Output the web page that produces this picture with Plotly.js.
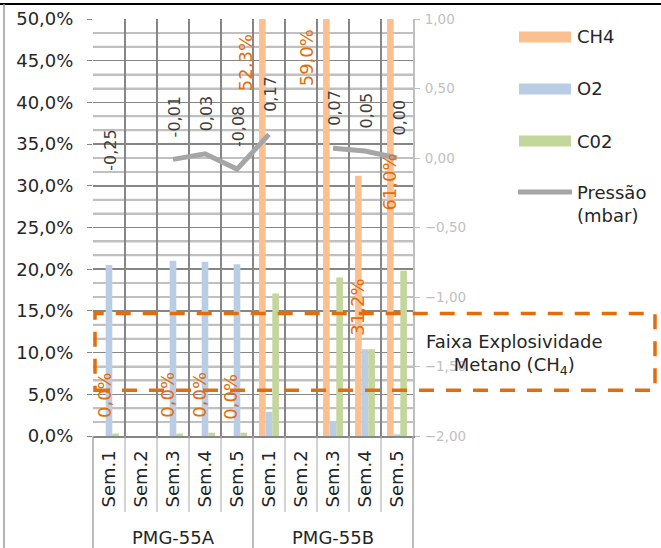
<!DOCTYPE html>
<html><head><meta charset="utf-8">
<script src="https://cdn.plot.ly/plotly-3.0.1.min.js"></script>
<style>html,body{margin:0;padding:0;background:#fff}#chart{width:661px;height:548px}</style>
</head><body><div id="chart"></div>
<script>
// ---- data ----
const groups = ['PMG-55A','PMG-55A','PMG-55A','PMG-55A','PMG-55A','PMG-55B','PMG-55B','PMG-55B','PMG-55B','PMG-55B'];
const weeks = ['Sem.1','Sem.2','Sem.3','Sem.4','Sem.5','Sem.1','Sem.2','Sem.3','Sem.4','Sem.5'];
const groupNames = ['PMG-55A', 'PMG-55B'];
const ch4 = [0.0, null, 0.0, 0.0, 0.0, 52.3, null, 59.0, 31.2, 61.0];
const o2 = [20.5, null, 21.0, 20.9, 20.6, 2.9, null, 1.8, 10.4, 0.2];
const co2 = [0.3, null, 0.3, 0.4, 0.4, 17.1, null, 19.0, 10.4, 19.8];
const pressure = [-0.25, null, -0.01, 0.03, -0.08, 0.17, null, 0.07, 0.05, 0.00];
const seriesNames = ['CH4', 'O2', 'C02', 'Pressão<br>(mbar)'];
const bandLow = 5.5, bandHigh = 14.7;
const bandText = 'Faixa Explosividade<br>Metano (CH<sub>4</sub>)';

// ---- label placement (layout only) ----
const ch4LabelY = [4.9, null, 4.9, 4.9, 4.7, 44.7, null, 45.3, 15.5, 30.5];
const ch4LabelDx = [-0.16, 0, -0.17, -0.17, -0.19, -0.75, 0, -0.84, -0.22, -0.22];

// ---- styles ----
const FONT = 'DejaVu Sans';
const colors = {ch4: '#FAC090', o2: '#B9CDE5', co2: '#C3D69B', p: '#A6A6A6', band: '#E46C0A', lab: '#E46C0A'};
const W = 661, H = 548;
const M = {l: 93, r: 248, t: 19, b: 112};
const PW = W - M.l - M.r, PH = H - M.t - M.b;
const px2x = px => (px - M.l) / PW;
const py2y = py => (H - M.b - py) / PH;
const yRange = [0, 50], y2Range = [-2, 1];

const xKeys = groups.map((g, i) => g + ' ' + weeks[i]);
const traces = [
  {type: 'bar', name: seriesNames[0], x: xKeys, y: ch4, marker: {color: colors.ch4}, showlegend: false},
  {type: 'bar', name: seriesNames[1], x: xKeys, y: o2, marker: {color: colors.o2}, showlegend: false},
  {type: 'bar', name: seriesNames[2], x: xKeys, y: co2, marker: {color: colors.co2}, showlegend: false},
  {type: 'scatter', mode: 'lines', name: seriesNames[3], x: xKeys, y: pressure, yaxis: 'y2',
   line: {color: colors.p, width: 5}, connectgaps: false, showlegend: false}
];

const fmt = (v, d) => v.toFixed(d).replace('.', ',');
const n = weeks.length;
const annotations = [];
const shapes = [];
// light grid every 0.1 of the secondary axis (skip where the dark 5% lines are)
const nMinor = Math.round((y2Range[1] - y2Range[0]) / 0.1);
const minorStep = (yRange[1] - yRange[0]) / nMinor;
for (let k = 1; k < nMinor; k++) {
  if (k % 3 === 0) continue;
  shapes.push({type: 'line', layer: 'below', xref: 'x domain', yref: 'y domain', x0: 0, x1: 1, y0: k / nMinor, y1: k / nMinor,
    line: {color: '#C0C0C0', width: 2}});
}
ch4.forEach((v, i) => {
  if (v === null) return;
  annotations.push({xref: 'paper', yref: 'y', x: (i + 0.5 + ch4LabelDx[i]) / n, y: ch4LabelY[i],
    text: fmt(v, 1) + '%', textangle: -90, showarrow: false, xanchor: 'center', yanchor: 'middle',
    font: {family: FONT, size: 18, color: colors.lab}});
});
pressure.forEach((v, i) => {
  if (v === null) return;
  annotations.push({xref: 'paper', yref: 'y2', x: (i + 0.5) / n, y: v, xshift: 1.5, yshift: 20,
    text: fmt(v, 2), textangle: -90, showarrow: false, xanchor: 'center', yanchor: 'bottom',
    font: {family: FONT, size: 16, color: '#404040'}});
});
// legend
const legY = [37, 89, 141, 192];
const legColors = [colors.ch4, colors.o2, colors.co2];
legColors.forEach((c, k) => {
  shapes.push({type: 'rect', xref: 'paper', yref: 'paper', x0: px2x(519), x1: px2x(571),
    y0: py2y(legY[k] - 5.5), y1: py2y(legY[k] + 5.5), fillcolor: c, line: {width: 0}});
  annotations.push({xref: 'paper', yref: 'paper', x: px2x(575), y: py2y(legY[k]), xanchor: 'left', yanchor: 'middle',
    text: seriesNames[k], showarrow: false, font: {family: FONT, size: 18, color: '#262626'}});
});
shapes.push({type: 'line', xref: 'paper', yref: 'paper', x0: px2x(518), x1: px2x(572), y0: py2y(legY[3]), y1: py2y(legY[3]),
  line: {color: colors.p, width: 5}});
annotations.push({xref: 'paper', yref: 'paper', x: px2x(575), y: py2y(legY[3] + 11.5), xanchor: 'left', yanchor: 'middle', align: 'left',
  text: seriesNames[3], showarrow: false, font: {family: FONT, size: 18, color: '#262626'}});
// band
shapes.push({type: 'rect', xref: 'paper', yref: 'y', x0: px2x(95), x1: px2x(655), y0: bandLow, y1: bandHigh,
  line: {color: colors.band, width: 3.5, dash: '15px,12px'}, fillcolor: 'rgba(0,0,0,0)'});
annotations.push({xref: 'paper', yref: 'y', x: px2x(514), y: (bandLow + bandHigh) / 2 - 0.3, xanchor: 'center', yanchor: 'middle', align: 'center',
  text: bandText, showarrow: false, font: {family: FONT, size: 18, color: '#262626'}});
// category separators below axis, group dividers and group labels
for (let i = 1; i < n; i++) {
  if (i === n / 2) continue;
  shapes.push({type: 'line', xref: 'paper', yref: 'paper', x0: i / n, x1: i / n, y0: 0, y1: py2y(512),
    line: {color: '#A6A6A6', width: 1}});
}
[0, 0.5, 1].forEach(f => shapes.push({type: 'line', xref: 'paper', yref: 'paper', x0: f, x1: f, y0: 0, y1: py2y(H),
  line: {color: '#A6A6A6', width: 1.5}}));
groupNames.forEach((g, k) => annotations.push({xref: 'paper', yref: 'paper', x: (k + 0.5) / groupNames.length, y: py2y(537),
  xanchor: 'center', yanchor: 'middle', text: g, showarrow: false, font: {family: FONT, size: 18, color: '#262626'}}));
// chart border (top / left)
shapes.push({type: 'line', xref: 'paper', yref: 'paper', x0: px2x(0), x1: px2x(W), y0: py2y(4), y1: py2y(4), line: {color: '#000', width: 2}});
shapes.push({type: 'line', xref: 'paper', yref: 'paper', x0: px2x(4), x1: px2x(4), y0: py2y(4), y1: py2y(H), line: {color: '#9a9a9a', width: 1.5}});

const layout = {
  width: W, height: H, margin: M, paper_bgcolor: '#fff', plot_bgcolor: 'rgba(0,0,0,0)',
  separators: ',.', barmode: 'group', bargap: 0.38, bargroupgap: 0, showlegend: false,
  font: {family: FONT, size: 18, color: '#262626'},
  xaxis: {type: 'category', tickmode: 'array', tickvals: xKeys, ticktext: weeks, tickson: 'boundaries',
    tickangle: -90, showgrid: true, gridcolor: '#868686', gridwidth: 2,
    showline: true, linecolor: '#868686', linewidth: 2, ticks: '', zeroline: false, ticklabelstandoff: 5,
    tickfont: {family: FONT, size: 18, color: '#262626'}},
  yaxis: {range: yRange, dtick: 5, tickformat: '.1f', ticksuffix: '%', showgrid: true, gridcolor: '#868686', gridwidth: 1.5,
    minor: {tick0: 0, dtick: minorStep, showgrid: true, gridcolor: '#C0C0C0', gridwidth: 2},
    ticks: 'outside', ticklen: 5, tickcolor: '#868686', zeroline: false, showline: false, ticklabelstandoff: 10,
    tickfont: {family: FONT, size: 18, color: '#262626'}},
  yaxis2: {overlaying: 'y', side: 'right', range: y2Range, dtick: 0.5, tickformat: '.2f', showgrid: false,
    showline: true, linecolor: '#BFBFBF', linewidth: 2, ticks: 'outside', ticklen: 5, tickcolor: '#BFBFBF',
    zeroline: false, ticklabelstandoff: 2, tickfont: {family: FONT, size: 13.5, color: '#BFBFBF'}},
  shapes: shapes, annotations: annotations
};
Plotly.newPlot('chart', traces, layout, {displayModeBar: false, staticPlot: true});
</script></body></html>
